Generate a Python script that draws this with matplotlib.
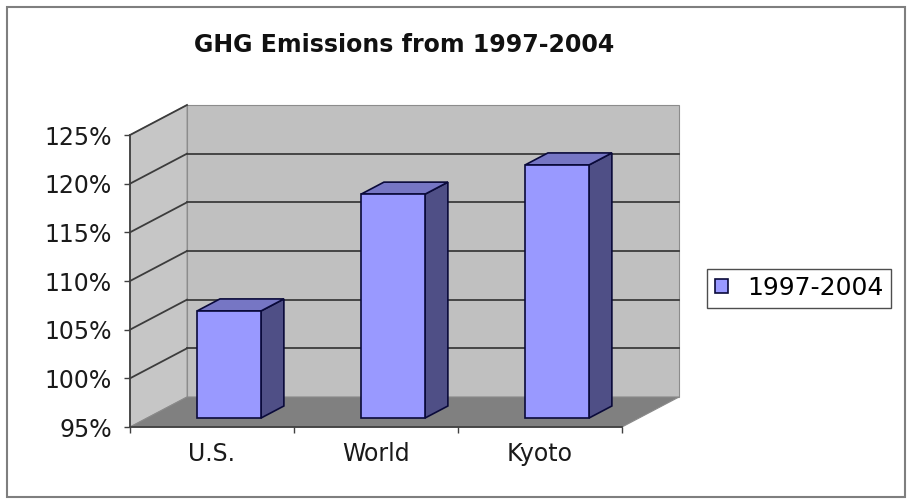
import matplotlib
matplotlib.use("Agg")
import matplotlib.pyplot as plt
from matplotlib.patches import Polygon, Rectangle, Patch
import numpy as np

plt.rcParams['font.family'] = ['DejaVu Sans']

# ---- data ----
title = "GHG Emissions from 1997-2004"
categories = ["U.S.", "World", "Kyoto"]
values = [106, 118, 121]          # percent
series_name = "1997-2004"
y_ticks = [95, 100, 105, 110, 115, 120, 125]
y_tick_labels = ["95%", "100%", "105%", "110%", "115%", "120%", "125%"]

# ---- style ----
FRONT = "#9999ff"
SIDE = "#4f4f86"
TOP = "#7676c4"
EDGE = "#0a0a3a"
WALL = "#c0c0c0"
LWALL = "#c6c6c6"
FLOOR = "#808080"
GRID = "#3c3c3c"

W, H = 907, 499
fig = plt.figure(figsize=(W / 100, H / 100), dpi=100)
fig.patch.set_facecolor("white")
ax = fig.add_axes([130 / W, 72 / H, 492 / W, 292 / H])
ymin, ymax = y_ticks[0], y_ticks[-1]
n = len(categories)
ax.set_xlim(-0.5, n - 0.5)
ax.set_ylim(ymin, ymax)
ax.set_facecolor("none")

# oblique depth projection in data units
DX = 57 / 164.0
DY = 30 * (ymax - ymin) / 292.0


def P(x, y, z):
    return (x + z * DX, y + z * DY)


def poly(pts, **kw):
    p = Polygon([P(*q) for q in pts], closed=True, clip_on=False, **kw)
    ax.add_patch(p)
    return p


x0, x1 = -0.5, n - 0.5
# left wall
poly([(x0, ymin, 0), (x0, ymax, 0), (x0, ymax, 1), (x0, ymin, 1)],
     facecolor=LWALL, edgecolor="#9a9a9a", lw=0.8, zorder=0.5)
# back wall
poly([(x0, ymin, 1), (x1, ymin, 1), (x1, ymax, 1), (x0, ymax, 1)],
     facecolor=WALL, edgecolor="#8c8c8c", lw=0.8, zorder=0.5)
# floor
poly([(x0, ymin, 0), (x1, ymin, 0), (x1, ymin, 1), (x0, ymin, 1)],
     facecolor=FLOOR, edgecolor="#8a8a8a", lw=0.8, zorder=0.6)

# gridlines
for t in y_ticks[1:]:
    a = P(x0, t, 0); b = P(x0, t, 1)
    ax.plot([a[0], b[0]], [a[1], b[1]], color=GRID, lw=1.3, clip_on=False, zorder=0.8)
for t in y_ticks[1:-1]:
    a = P(x0, t, 1); b = P(x1, t, 1)
    ax.plot([a[0], b[0]], [a[1], b[1]], color=GRID, lw=1.3, clip_on=False, zorder=0.8)

# bars
bw = 0.39
z0, z1 = 0.3, 0.7
for i, v in enumerate(values):
    xl, xr = i - bw / 2, i + bw / 2
    poly([(xr, ymin, z0), (xr, ymin, z1), (xr, v, z1), (xr, v, z0)],
         facecolor=SIDE, edgecolor=EDGE, lw=1.2, joinstyle="miter", zorder=3)
    poly([(xl, v, z0), (xr, v, z0), (xr, v, z1), (xl, v, z1)],
         facecolor=TOP, edgecolor=EDGE, lw=1.2, joinstyle="miter", zorder=3)
    poly([(xl, ymin, z0), (xr, ymin, z0), (xr, v, z0), (xl, v, z0)],
         facecolor=FRONT, edgecolor=EDGE, lw=1.2, joinstyle="miter", zorder=3.1)

# axes
for s in ["top", "right"]:
    ax.spines[s].set_visible(False)
for s in ["left", "bottom"]:
    ax.spines[s].set_color("#404040")
    ax.spines[s].set_linewidth(1.3)
    ax.spines[s].set_zorder(2)

ax.set_yticks(y_ticks)
ax.set_yticklabels(y_tick_labels, fontsize=17, color="#1a1a1a")
ax.tick_params(axis="y", direction="out", length=4, width=1, color="#404040", pad=9)

ax.set_xticks(np.arange(n + 1) - 0.5)
ax.set_xticklabels([""] * (n + 1))
ax.set_xticks(np.arange(n), minor=True)
ax.set_xticklabels(categories, minor=True, fontsize=17, color="#1a1a1a")
ax.tick_params(axis="x", which="major", direction="out", length=4, width=1, color="#404040")
ax.tick_params(axis="x", which="minor", length=0, pad=11)

# title
fig.text(404 / W, 1 - 52 / H, title, ha="center", va="baseline",
         fontsize=17, fontweight="bold", color="#111111")

# legend
leg = ax.legend(handles=[Patch(facecolor=FRONT, edgecolor=EDGE, lw=1.2, label=series_name)],
                loc="center left", bbox_to_anchor=(707 / W, 1 - 288 / H),
                bbox_transform=fig.transFigure, frameon=True, fancybox=False,
                borderaxespad=0, borderpad=0.3, handlelength=0.55, handleheight=0.5,
                handletextpad=0.75, prop={"size": 18})
leg.get_frame().set_edgecolor("#222222")
leg.get_frame().set_linewidth(1.0)

# outer border
fig.add_artist(Rectangle((7 / W, 2 / H), 898 / W, 490 / H, transform=fig.transFigure,
                         fill=False, edgecolor="#7f7f7f", lw=1.5))

fig.savefig("out.png", dpi=100)
